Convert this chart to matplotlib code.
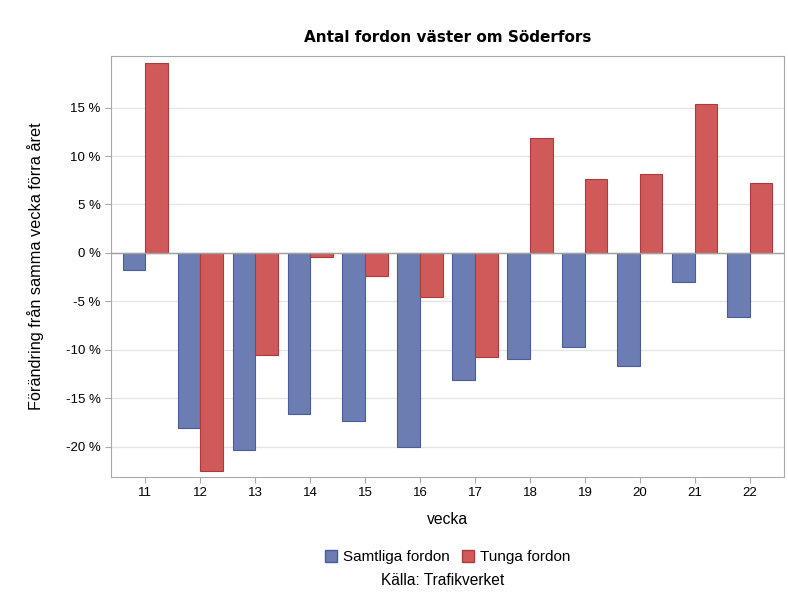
import matplotlib
matplotlib.use("Agg")
import matplotlib.pyplot as plt
from matplotlib.patches import Patch
import numpy as np

weeks = [11, 12, 13, 14, 15, 16, 17, 18, 19, 20, 21, 22]
samtliga = [-1.75, -18.0, -20.3, -16.6, -17.35, -20.0, -13.05, -10.95, -9.65, -11.7, -3.0, -6.55]
tunga = [19.6, -22.5, -10.5, -0.45, -2.4, -4.5, -10.7, 11.9, 7.6, 8.15, 15.4, 7.2]
yticks = [-20, -15, -10, -5, 0, 5, 10, 15]

plt.rcParams['font.family'] = ['Liberation Sans', 'DejaVu Sans']

blue = '#6c7db3'
blue_edge = '#4b5c98'
red = '#d05a5a'
red_edge = '#ad3b3b'

fig = plt.figure(figsize=(7.88, 5.97), dpi=100)
ax = fig.add_axes([0.1409, 0.201, 0.854, 0.705])

x = np.array(weeks, dtype=float)
w = 0.41
ax.bar(x - w / 2, samtliga, width=w, color=blue, edgecolor=blue_edge, linewidth=0.8, zorder=3)
ax.bar(x + w / 2, tunga, width=w, color=red, edgecolor=red_edge, linewidth=0.8, zorder=3)

ax.set_xlim(10.38, 22.62)
ax.set_ylim(-23.1, 20.3)
ax.set_xticks(weeks)
ax.set_xticklabels([str(v) for v in weeks], fontsize=9.5)
ax.set_yticks(yticks)
ax.set_yticklabels([f"{v} %" for v in yticks], fontsize=9.5)
ax.yaxis.grid(True, color='#e6e6e6', linewidth=1, zorder=0)
ax.axhline(0, color='#a0a0a0', linewidth=1, zorder=4)
for s in ax.spines.values():
    s.set_color('#a8a8a8')
ax.tick_params(colors='#a8a8a8', labelcolor='black', length=4)

ax.set_title("Antal fordon väster om Söderfors", fontsize=11, fontweight='bold', pad=10,
             family=['DejaVu Sans'])
ax.set_xlabel("vecka", fontsize=11.3, labelpad=9)
ax.set_ylabel("Förändring från samma vecka förra året", fontsize=11.7, labelpad=16)

handles = [Patch(facecolor=blue, edgecolor=blue_edge, label='Samtliga fordon'),
           Patch(facecolor=red, edgecolor=red_edge, label='Tunga fordon')]
fig.legend(handles=handles, loc='center', bbox_to_anchor=(0.568, 0.067), ncol=2,
           frameon=False, fontsize=11, handlelength=0.8, handleheight=0.8,
           handletextpad=0.4, columnspacing=0.8)
fig.text(0.562, 0.028, "Källa: Trafikverket", ha='center', va='center', fontsize=11.2)

fig.savefig("out.png", dpi=100)
